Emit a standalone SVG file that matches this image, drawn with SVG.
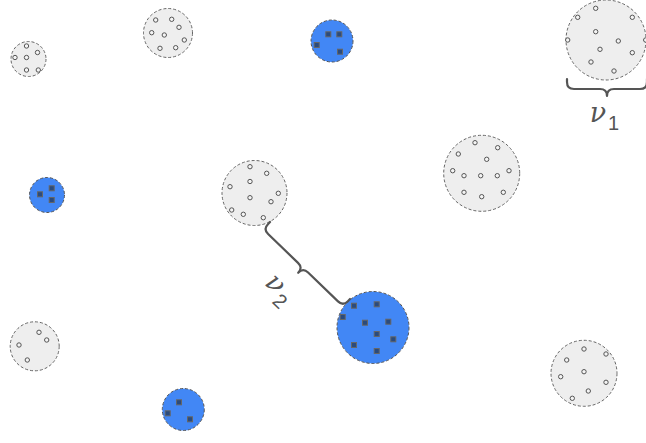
<svg xmlns="http://www.w3.org/2000/svg" width="646" height="443" viewBox="0 0 646 443">
<style>
.g{fill:#eeeeee;stroke:#666;stroke-width:1;stroke-dasharray:3,2}
.b{fill:#4287f5;stroke:#555;stroke-width:1;stroke-dasharray:3,2}
.d{fill:#f4f4f4;stroke:#555;stroke-width:1}
.s{fill:#2a4b7e;stroke:#666;stroke-width:1}
.br{fill:none;stroke:#555;stroke-width:2.2;stroke-linecap:round;stroke-linejoin:round}
.nu{font-family:"DejaVu Serif",serif;font-style:italic;font-size:27px;fill:#555}
.sub{font-family:"Liberation Sans",sans-serif;font-size:20px;fill:#555}
</style>
<defs>
<circle id="dot" r="2.2" class="d"/>
<rect id="sq" x="-2.5" y="-2.5" width="5" height="5" class="s"/>
</defs>
<rect width="646" height="443" fill="#ffffff"/>

<g id="c1">
<circle cx="28.5" cy="59" r="17.5" class="g"/>
<use href="#dot" x="26.5" y="46"/><use href="#dot" x="37.5" y="52.5"/><use href="#dot" x="15" y="57.5"/><use href="#dot" x="26.5" y="57.5"/><use href="#dot" x="26.5" y="70"/><use href="#dot" x="38.3" y="70"/>
</g>
<g id="c2">
<circle cx="168" cy="33" r="24.5" class="g"/>
<use href="#dot" x="155.7" y="20"/><use href="#dot" x="171.7" y="19.3"/><use href="#dot" x="179" y="27.3"/><use href="#dot" x="151.7" y="32.7"/><use href="#dot" x="164.3" y="35"/><use href="#dot" x="184.3" y="40"/><use href="#dot" x="160" y="48.3"/><use href="#dot" x="175.7" y="47.7"/>
</g>
<g id="c3">
<circle cx="332" cy="41" r="21" class="b"/>
<use href="#sq" x="328.3" y="34.3"/><use href="#sq" x="339.3" y="34.3"/><use href="#sq" x="316.7" y="45"/><use href="#sq" x="340" y="51.7"/>
</g>
<g id="c4">
<circle cx="606" cy="40" r="40" class="g"/>
<use href="#dot" x="595.7" y="8.3"/><use href="#dot" x="577.7" y="17.3"/><use href="#dot" x="632.3" y="17.3"/><use href="#dot" x="595.7" y="31.7"/><use href="#dot" x="567.7" y="40"/><use href="#dot" x="618.3" y="41"/><use href="#dot" x="645.7" y="40"/><use href="#dot" x="600" y="49.3"/><use href="#dot" x="632.3" y="52.7"/><use href="#dot" x="591" y="62"/><use href="#dot" x="614" y="71"/>
</g>
<g id="c5">
<circle cx="47" cy="195" r="17.5" class="b"/>
<use href="#sq" x="40" y="194.3"/><use href="#sq" x="51.7" y="188.3"/><use href="#sq" x="51.7" y="200"/>
</g>
<g id="c6">
<circle cx="254.5" cy="193" r="32.5" class="g"/>
<use href="#dot" x="250" y="166.7"/><use href="#dot" x="266.7" y="173.3"/><use href="#dot" x="230" y="186.7"/><use href="#dot" x="250" y="181.5"/><use href="#dot" x="278.3" y="193.3"/><use href="#dot" x="250" y="197.7"/><use href="#dot" x="271" y="201.7"/><use href="#dot" x="231.7" y="210"/><use href="#dot" x="243.3" y="214.3"/><use href="#dot" x="263.3" y="217.7"/>
</g>
<g id="c7">
<circle cx="481.7" cy="173.3" r="38" class="g"/>
<use href="#dot" x="475" y="142.7"/><use href="#dot" x="497.7" y="147.7"/><use href="#dot" x="458.3" y="154"/><use href="#dot" x="486.7" y="159.3"/><use href="#dot" x="452.7" y="170.7"/><use href="#dot" x="464" y="175.7"/><use href="#dot" x="480.7" y="175.7"/><use href="#dot" x="497.3" y="175.7"/><use href="#dot" x="509" y="170.7"/><use href="#dot" x="464" y="192.3"/><use href="#dot" x="481.7" y="196.7"/><use href="#dot" x="503.3" y="192.3"/>
</g>
<g id="c8">
<circle cx="34.7" cy="346.3" r="24.5" class="g"/>
<use href="#dot" x="39" y="332.3"/><use href="#dot" x="46.7" y="340"/><use href="#dot" x="19" y="345"/><use href="#dot" x="27.3" y="360"/>
</g>
<g id="c9">
<circle cx="183.3" cy="409.5" r="21" class="b"/>
<use href="#sq" x="179" y="402.3"/><use href="#sq" x="167.7" y="413.3"/><use href="#sq" x="190" y="419.3"/>
</g>
<g id="c10">
<circle cx="584" cy="373.3" r="33" class="g"/>
<use href="#dot" x="584" y="349"/><use href="#dot" x="606" y="354"/><use href="#dot" x="566.7" y="360"/><use href="#dot" x="584" y="371.7"/><use href="#dot" x="560.7" y="376.7"/><use href="#dot" x="606" y="382.3"/><use href="#dot" x="588.3" y="391"/><use href="#dot" x="572.3" y="398.3"/>
</g>
<g id="c11">
<circle cx="373" cy="327.5" r="36" class="b"/>
<use href="#sq" x="354" y="305.7"/><use href="#sq" x="376.7" y="304.3"/><use href="#sq" x="342.7" y="317"/><use href="#sq" x="365" y="322.7"/><use href="#sq" x="388.3" y="321.7"/><use href="#sq" x="376.7" y="334"/><use href="#sq" x="393.3" y="339.3"/><use href="#sq" x="354" y="345"/><use href="#sq" x="376.7" y="351"/>
</g>

<g id="connectors">
<g id="brace1" transform="translate(607,79)">
<path class="br" d="M-40,0 L-40,3 Q-40,10 -33,10 L-7,10 Q0,10 0,17 Q0,10 7,10 L33,10 Q40,10 40,3 L40,0"/>
<text class="nu" x="-9" y="43" text-anchor="middle">ν</text>
<text class="sub" x="1" y="51">1</text>
</g>
<g id="brace2" transform="translate(310,260.5) rotate(43.9)">
<path class="br" d="M-55.5,0 L-55.5,3 Q-55.5,10 -48.5,10 L-7,10 Q0,10 0,17 Q0,10 7,10 L48.5,10 Q55.5,10 55.5,3 L55.5,0"/>
<text class="nu" x="-9" y="49" text-anchor="middle">ν</text>
<text class="sub" x="1" y="57">2</text>
</g>
</g>
</svg>
